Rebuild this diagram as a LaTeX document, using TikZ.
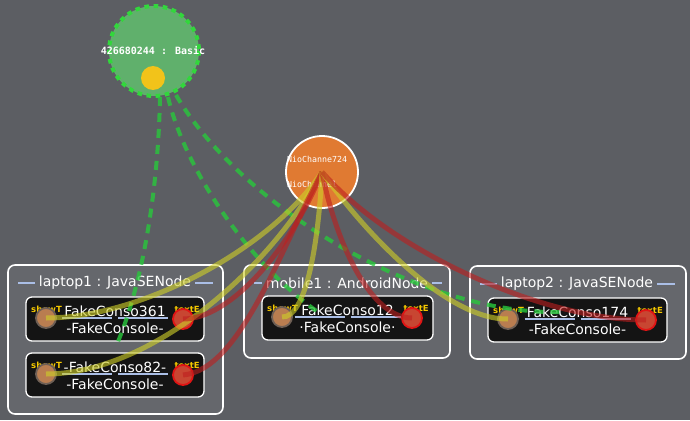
\documentclass[tikz,border=0pt]{standalone}
\usepackage{fontspec}
\setmainfont{DejaVu Sans}
\newfontfamily\monofont{DejaVu Sans Mono}
\definecolor{bgc}{RGB}{92,94,99}
\definecolor{grpfill}{RGB}{96,176,108}
\definecolor{grpdot}{RGB}{50,215,60}
\definecolor{ballc}{RGB}{242,195,26}
\definecolor{chanc}{RGB}{224,122,50}
\definecolor{boxc}{RGB}{20,20,20}
\definecolor{portlbl}{RGB}{245,200,0}
\definecolor{showfill}{RGB}{185,125,80}
\definecolor{showrim}{RGB}{110,95,85}
\definecolor{texfill}{RGB}{200,70,50}
\definecolor{texrim}{RGB}{225,20,20}
\definecolor{ulc}{RGB}{170,190,230}
\definecolor{yelc}{RGB}{205,205,40}
\definecolor{redc}{RGB}{190,30,30}
\definecolor{grnc}{RGB}{40,200,60}
\tikzset{
  container/.style={draw=white, line width=1.6pt, rounded corners=7pt, fill=white, fill opacity=0.06},
  consbox/.style={draw=white, line width=1.3pt, rounded corners=6pt, fill=boxc},
  showtport/.style={circle, minimum size=20pt, inner sep=0pt, fill=showfill, draw=showrim, line width=1.8pt},
  texteport/.style={circle, minimum size=20pt, inner sep=0pt, fill=texfill, draw=texrim, line width=1.8pt},
  portlabel/.style={text=portlbl, font=\bfseries\fontsize{8.5}{8.5}\selectfont, inner sep=0pt},
  ttl/.style={text=white, font=\fontsize{14}{14}\selectfont, inner sep=0pt},
  uline/.style={draw=ulc, line width=1.4pt},
  yellink/.style={draw=yelc, line width=5pt, draw opacity=0.62},
  redlink/.style={draw=redc, line width=5pt, draw opacity=0.6},
  grnlink/.style={draw=grnc, line width=4pt, draw opacity=0.8, dash pattern=on 9pt off 7pt},
}
% id, x1, y1, x2, top text, sub text
\newcommand\consolebox[6]{%
  \draw[consbox] (#2,#3) rectangle (#4,{#3+44});
  \node[ttl] (#1top) at ({(#2+#4)/2},{#3+14}) {#5};
  \draw[uline] ({(#2+#4)/2-53},{#3+21}) -- ({(#2+#4)/2-3},{#3+21});
  \draw[uline] ({(#2+#4)/2+3},{#3+21}) -- ({(#2+#4)/2+53},{#3+21});
  \node[ttl] (#1sub) at ({(#2+#4)/2},{#3+31}) {#6};
  \node[portlabel, anchor=west] (#1sl) at ({#2+5},{#3+12}) {showT};
  \node[portlabel, anchor=east] (#1el) at ({#4-4},{#3+12}) {textE};
  \node[showtport] (#1s) at ({#2+20},{#3+21}) {};
  \node[texteport] (#1e) at ({#4-21},{#3+22}) {};
}
\begin{document}
\begin{tikzpicture}[x=1pt,y=-1pt]
\fill[bgc] (0,0) rectangle (690,420);
\useasboundingbox (0,0) rectangle (690,420);

% containers
\draw[container] (8,265) rectangle (223,414);
\draw[container] (244,265) rectangle (450,358);
\draw[container] (470,266) rectangle (686,359);
\node[ttl] (lap1) at (115,283) {laptop1 : JavaSENode};
\node[ttl] (mob1) at (347,283) {mobile1 : AndroidNode};
\node[ttl] (lap2) at (577,284) {laptop2 : JavaSENode};
\draw[uline] ([xshift=-4pt]lap1.west) -- ++(-17,0);
\draw[uline] ([xshift=4pt]lap1.east) -- ++(18,0);
\draw[uline] ([xshift=-4pt]mob1.west) -- ++(-8,0);
\draw[uline] ([xshift=4pt]mob1.east) -- ++(10,0);
\draw[uline] ([xshift=-4pt]lap2.west) -- ++(-17,0);
\draw[uline] ([xshift=4pt]lap2.east) -- ++(18,0);

% consoles
\consolebox{c361}{26}{297}{204}{FakeConso361}{-FakeConsole-}
\consolebox{c82}{26}{353}{204}{-FakeConso82-}{-FakeConsole-}
\consolebox{c12}{262}{296}{433}{FakeConso12}{·FakeConsole·}
\consolebox{c174}{488}{298}{667}{FakeConso174}{-FakeConsole-}

% group node
\node[circle, minimum size=90pt, inner sep=0pt, fill=grpfill] (grp) at (154,51) {};
\draw[grpdot, line width=4pt, dash pattern=on 4.6pt off 4.6pt] (grp.center) circle (45);
\node[text=white, font=\monofont\bfseries\fontsize{10}{10}\selectfont, inner sep=0pt] (grpl) at (153,51) {426680244 : Basic};
\node[circle, minimum size=24pt, inner sep=0pt, fill=ballc] (ball) at (153,78) {};

% channel node
\node[circle, minimum size=72pt, inner sep=0pt, fill=chanc] (chan) at (322,172) {};
\node[text=white, font=\monofont\fontsize{8.3}{8.3}\selectfont, inner sep=0pt, anchor=west] (chl1) at (287,159) {NioChanne724};
\node[text=white, font=\monofont\fontsize{8.3}{8.3}\selectfont, inner sep=0pt, anchor=west] (chl2) at (287,184) {NioChannel};
\draw[white, line width=1.8pt] (chan.center) circle (36);

% group links
\coordinate (g1) at (160,97);
\coordinate (g2) at (168,97);
\coordinate (g3) at (176,95);
\coordinate (g1e) at (117,344);
\coordinate (g2e) at (318,312);
\coordinate (g3e) at (560,312);
\draw[grnlink] (g1) .. controls (158,200) and (140,290) .. (g1e);
\draw[grnlink] (g2) .. controls (185,170) and (250,265) .. (g2e);
\draw[grnlink] (g3) .. controls (240,205) and (420,315) .. (g3e);

% channel links
\draw[yellink] (chan.center) .. controls (270,250) and (140,318) .. (c361s.center);
\draw[yellink] (chan.center) .. controls (270,270) and (150,374) .. (c82s.center);
\draw[redlink] (chan.center) .. controls (290,250) and (230,319) .. (c361e.center);
\draw[redlink] (chan.center) .. controls (280,250) and (240,370) .. (c82e.center);
\draw[yellink] (chan.center) .. controls (318,250) and (305,318) .. (c12s.center);
\draw[redlink] (chan.center) .. controls (335,240) and (370,318) .. (c12e.center);
\draw[yellink] (chan.center) .. controls (370,240) and (450,320) .. (c174s.center);
\draw[redlink] (chan.center) .. controls (390,250) and (540,320) .. (c174e.center);
\end{tikzpicture}
\end{document}
